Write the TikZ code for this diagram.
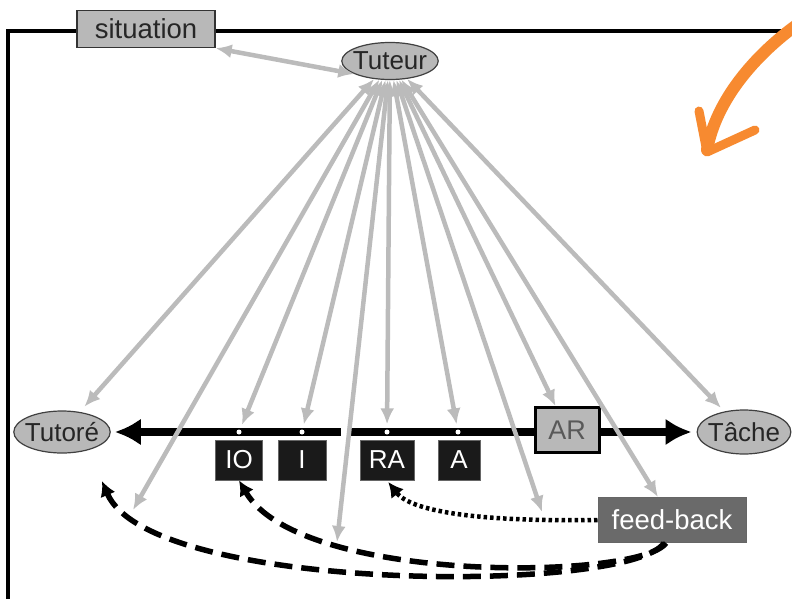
\documentclass[tikz,border=0pt]{standalone}
\usepackage{fontspec}
\setmainfont{Liberation Sans}
\usetikzlibrary{arrows.meta,shapes.geometric}
\definecolor{agray}{HTML}{BBBBBB}
\definecolor{nodegray}{HTML}{B8B8B8}
\definecolor{fbgray}{HTML}{6A6A6A}
\definecolor{boxblack}{HTML}{1A1A1A}
\definecolor{orng}{HTML}{F78A30}
\tikzset{
  lbl/.style={font=\fontsize{26}{30}\selectfont, inner sep=0pt},
  ovalnode/.style={ellipse, draw=black!75, line width=1.2pt, fill=nodegray, lbl, inner xsep=-3pt, inner ysep=-3pt, text=black!85},
  graybox/.style={rectangle, draw=black!80, line width=1.4pt, fill=nodegray, lbl, text=black!85},
  blackbox/.style={rectangle, draw=black!60, line width=0.8pt, fill=boxblack, lbl, text=white, minimum width=47, minimum height=40},
  dotmark/.style={circle, fill=white, inner sep=0pt, minimum size=5},
  gar/.style={draw=agray, line width=4.5pt, {Latex[length=16pt,width=14pt]}-{Latex[length=16pt,width=14pt]}},
  mainbar/.style={draw=black, line width=8pt},
  dasharr/.style={draw=black, line width=5.5pt, dash pattern=on 18pt off 9pt, -{Latex[length=15pt,width=16pt]}},
  dotarr/.style={draw=black, line width=4.5pt, dash pattern=on 3.5pt off 3pt, -{Latex[length=15pt,width=16pt]}},
  orangestroke/.style={draw=orng, line cap=round, line join=round}
}
\begin{document}
\begin{tikzpicture}[x=1pt,y=-1pt]
\useasboundingbox (0,0) rectangle (792,599);
\fill[white] (0,0) rectangle (792,599);

% frame
\draw[line width=3.5pt] (8,602) -- (8,31) -- (785,31);

% nodes
\node[graybox, minimum width=138, minimum height=37, font=\fontsize{27.5}{32}\selectfont] (situation) at (146,29) {situation};
\node[ovalnode, minimum width=96, minimum height=37] (Tuteur) at (390,61) {Tuteur};
\node[ovalnode, minimum width=94, minimum height=42] (Tutore) at (62,432) {Tutoré};
\node[ovalnode, minimum width=91, minimum height=44] (Tache) at (744,432) {Tâche};

% main bar
\coordinate (gapL) at (341,432);
\coordinate (gapR) at (349,432);
\draw[mainbar, {Latex[length=26pt,width=27pt]}-, shorten <=4pt] (Tutore) -- (gapL);
\draw[mainbar, -{Latex[length=26pt,width=27pt]}, shorten >=5pt] (gapR) -- (Tache);

% dots on bar
\node[dotmark] (dIO) at (239,432) {};
\node[dotmark] (dI) at (302,432) {};
\node[dotmark] (dRA) at (387,432) {};
\node[dotmark] (dA) at (458,432) {};

% boxes
\node[blackbox] (IO) at (239,460) {IO};
\node[blackbox, minimum width=48] (I) at (302,460) {I};
\node[blackbox, minimum width=54] (RA) at (387,460) {RA};
\node[blackbox, minimum width=42] (A) at (459,460) {A};
\node[graybox, draw=black, line width=3pt, minimum width=64, minimum height=45, text=black!65, font=\fontsize{27}{32}\selectfont] (AR) at (567,430) {AR};
\node[rectangle, draw=black!60, line width=1pt, fill=fbgray, font=\fontsize{27.5}{32}\selectfont, inner sep=0pt, text=white, minimum width=148, minimum height=45] (fb) at (672,520) {feed-back};

% free ends
\coordinate (p1) at (133,510);
\coordinate (p2) at (337,542);
\coordinate (p3) at (542,512);
\coordinate (tutEnd) at (102,481);

% gray arrows
\draw[gar] (situation.south east) -- (Tuteur.200);
\draw[gar, shorten >=7pt] (Tuteur) -- (Tutore);
\draw[gar] (Tuteur) -- (p1);
\draw[gar, shorten >=5pt] (Tuteur) -- (dIO);
\draw[gar, shorten >=5pt] (Tuteur) -- (dI);
\draw[gar] (Tuteur) -- (p2);
\draw[gar, shorten >=5pt] (Tuteur) -- (dRA);
\draw[gar, shorten >=5pt] (Tuteur) -- (dA);
\draw[gar] (Tuteur) -- (p3);
\draw[gar] (Tuteur) -- (AR);
\draw[gar] (Tuteur) -- (fb);
\draw[gar, shorten >=5pt] (Tuteur) -- (Tache);

% feedback arrows
\draw[dotarr, shorten >=2pt] (fb.west) .. controls (470,522) and (410,510) .. (RA.south);
\draw[dasharr] ([xshift=-6pt]fb.south) .. controls (640,580) and (300,585) .. (IO.south);
\draw[dasharr] ([xshift=-8pt]fb.south) .. controls (630,594) and (150,594) .. (tutEnd);

% orange hand-drawn arrow
\draw[orangestroke, line width=12pt] (798,24) .. controls (755,55) and (716,100) .. (707,150);
\draw[orangestroke, line width=9pt] (699,111) -- (707,152) -- (755,130);
\end{tikzpicture}
\end{document}
